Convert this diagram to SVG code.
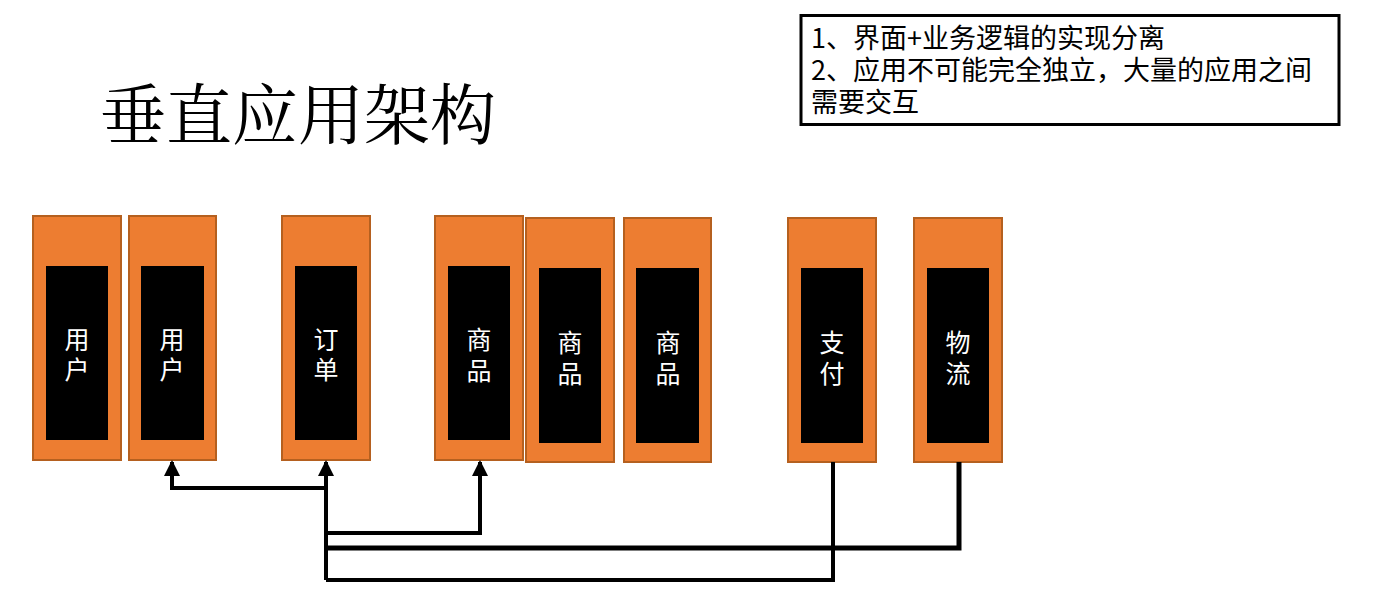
<svg xmlns="http://www.w3.org/2000/svg" width="1385" height="611" viewBox="0 0 1385 611">
<style>
.box{fill:#ED7D31;stroke:#B5601F;stroke-width:2}
.inner{fill:#000}
.lbl{fill:#fff;font-family:"Noto Sans CJK SC",sans-serif;font-size:25px;text-anchor:middle}
.note{fill:#000;font-family:"Noto Sans CJK SC",sans-serif;font-size:27px}
.title{fill:#000;font-family:"Noto Serif CJK SC","Noto Sans CJK SC",serif;font-size:66px}
.con{fill:none;stroke:#000;stroke-width:4}
</style>
<defs>
<marker id="arr" markerWidth="4" markerHeight="4" refX="3.5" refY="2" orient="auto" markerUnits="strokeWidth">
<path d="M0,0 L4,2 L0,4 Z" fill="#000"/>
</marker>
</defs>
<rect width="1385" height="611" fill="#fff"/>
<text class="title" x="100" y="139">垂直应用架构</text>
<g id="note">
<rect x="801" y="15.5" width="538" height="109" fill="#fff" stroke="#000" stroke-width="3"/>
<text class="note" x="811" y="48">1、界面+业务逻辑的实现分离</text>
<text class="note" x="811" y="80">2、应用不可能完全独立，大量的应用之间</text>
<text class="note" x="811" y="112">需要交互</text>
</g>
<g id="user1"><rect class="box" x="33" y="216" width="88" height="244"/><rect class="inner" x="46" y="266" width="62" height="174"/><text class="lbl" x="77" y="349">用</text><text class="lbl" x="77" y="379">户</text></g>
<g id="user2"><rect class="box" x="129" y="216" width="87" height="244"/><rect class="inner" x="141" y="266" width="63" height="174"/><text class="lbl" x="172" y="349">用</text><text class="lbl" x="172" y="379">户</text></g>
<g id="order"><rect class="box" x="282" y="216" width="88" height="244"/><rect class="inner" x="295" y="266" width="62" height="174"/><text class="lbl" x="326" y="349">订</text><text class="lbl" x="326" y="379">单</text></g>
<g id="goods1"><rect class="box" x="435" y="216" width="88" height="244"/><rect class="inner" x="448" y="266" width="62" height="174"/><text class="lbl" x="479" y="349">商</text><text class="lbl" x="479" y="380">品</text></g>
<g id="goods2"><rect class="box" x="526" y="218" width="88" height="244"/><rect class="inner" x="539" y="268" width="62" height="175"/><text class="lbl" x="570" y="352">商</text><text class="lbl" x="570" y="383">品</text></g>
<g id="goods3"><rect class="box" x="624" y="218" width="87" height="244"/><rect class="inner" x="636" y="268" width="63" height="175"/><text class="lbl" x="668" y="352">商</text><text class="lbl" x="668" y="383">品</text></g>
<g id="pay"><rect class="box" x="788" y="218" width="88" height="244"/><rect class="inner" x="801" y="268" width="62" height="175"/><text class="lbl" x="832" y="352">支</text><text class="lbl" x="832" y="383">付</text></g>
<g id="logistics"><rect class="box" x="914" y="218" width="88" height="244"/><rect class="inner" x="927" y="268" width="62" height="175"/><text class="lbl" x="958" y="352">物</text><text class="lbl" x="958" y="383">流</text></g>
<g id="connectors">
<path class="con" d="M326,580 L326,462" marker-end="url(#arr)"/>
<path class="con" d="M326,488 L172,488 L172,462" marker-end="url(#arr)"/>
<path class="con" d="M326,533 L480,533 L480,462" marker-end="url(#arr)"/>
<path class="con" d="M326,548 L959,548 L959,462" style="stroke-width:5"/>
<path class="con" d="M326,580 L833,580 L833,462"/>
</g>
</svg>
